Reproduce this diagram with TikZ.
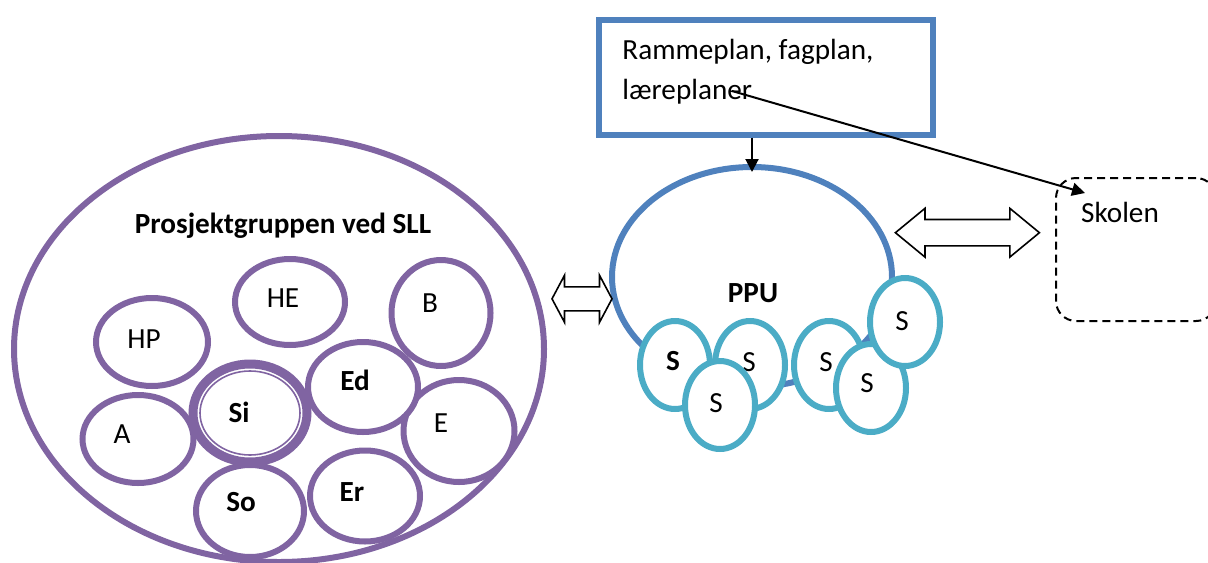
\documentclass[tikz,border=0pt]{standalone}
\usepackage{fontspec}
\setmainfont{Carlito}
\usetikzlibrary{shapes.geometric,shapes.arrows,arrows.meta}
\definecolor{sllpurple}{HTML}{8064A2}
\definecolor{ppublue}{HTML}{4F81BD}
\definecolor{steal}{HTML}{4BACC6}
\tikzset{oval/.style 2 args={minimum width=#1*0.5pt, minimum height=#2*0.5pt}}
\tikzstyle{member}=[ellipse, draw=sllpurple, line width=3pt, fill=white, inner sep=0pt]
\tikzstyle{student}=[ellipse, draw=steal, line width=3pt, fill=white, inner sep=0pt, oval={70}{88}]
\tikzstyle{word}=[inner sep=0pt, anchor=base, font=\fontsize{14.6}{20}\selectfont]
\tikzstyle{bold word}=[word, font=\fontsize{14.6}{20}\selectfont\bfseries]
\tikzstyle{bothways}=[double arrow, draw, line width=0.8pt, inner xsep=0pt]

\begin{document}
\begin{tikzpicture}[x=0.5pt, y=-0.5pt, >={Triangle[length=6.5pt,width=6.5pt]}]
      \useasboundingbox (0,0) rectangle (1208,562);
      % project group
      \node[member, oval={530}{426}] (sll) at (279,349) {};
      \node[bold word] (sll-title) at (283,233) {Prosjektgruppen ved SLL};
      \node[member, oval={112}{88}] (hp) at (152,342) {};
      \node[member, oval={110}{86}] (he) at (290,302) {};
      \node[member, oval={99}{106}] (b) at (441,313) {};
      \node[member, oval={111}{88}] (a) at (138,439) {};
      \node[member, oval={111}{102}] (e) at (459,431) {};
      \node[member, oval={110}{90}] (ed) at (363,387) {};
      \node[member, oval={110}{91}] (er) at (365,496) {};
      \node[member, oval={108}{92}] (so) at (250,511) {};
      \node[member, line width=4.5pt, oval={114}{98}] (si) at (250,413) {};
      \node[ellipse, draw=sllpurple, line width=0.8pt, oval={100}{84}] (si-ring) at (si) {};
      \node[word] (hp-t) at (144,348) {HP};
      \node[word] (he-t) at (283,307) {HE};
      \node[word] (b-t) at (430,312) {B};
      \node[word] (a-t) at (122,443) {A};
      \node[word] (e-t) at (441,432) {E};
      \node[bold word] (ed-t) at (355,390) {Ed};
      \node[bold word] (er-t) at (352,501) {Er};
      \node[bold word] (so-t) at (241,511) {So};
      \node[bold word] (si-t) at (239,422) {Si};
      % PPU with students
      \node[ellipse, draw=ppublue, line width=3pt, oval={280}{220}] (ppu) at (752,277) {};
      \node[bold word] (ppu-t) at (753,302) {PPU};
      \node[student] (s1) at (675,365) {};
      \node[bold word] (s1-t) at (673,370) {S};
      \node[student] (s2) at (750,365) {};
      \node[word] (s2-t) at (749,371) {S};
      \node[student] (s3) at (720,405) {};
      \node[word] (s3-t) at (716,412) {S};
      \node[student] (s4) at (829,365) {};
      \node[word] (s4-t) at (826,371) {S};
      \node[student] (s5) at (871,388) {};
      \node[word] (s5-t) at (867,392) {S};
      \node[student] (s6) at (905,322) {};
      \node[word] (s6-t) at (902,330) {S};
      % plans
      \node[draw=ppublue, line width=3pt, oval={334}{115}] (plan) at (765.5,77) {};
      \node[word, anchor=north west, align=left] (plan-t) at (622,39) {Rammeplan, fagplan,\\læreplaner};
      % school
      \node[draw, line width=1pt, dash pattern=on 4pt off 2.5pt, rounded corners=10pt, oval={160}{143}, anchor=north west] (skolen) at (1055,177) {};
      \node[word] (skolen-t) at (1120,222) {Skolen};
      \coordinate (plan-end) at (732,91);
      \coordinate (skolen-in) at (1085,193);
      \begin{scope}[every path/.style={->, line width=1pt}]
        \draw[shorten >=-4pt] (plan.south -| ppu.north) -- (ppu.north);
        \draw (plan-end) -- (skolen-in);
      \end{scope}
      \node[bothways, inner ysep=5.6pt, minimum height=30pt, double arrow head extend=5.75pt, double arrow tip angle=124] (sll-ppu) at (582,298.8) {};
      \node[bothways, inner ysep=6.2pt, minimum height=72pt, double arrow head extend=5.6pt, double arrow tip angle=79] (ppu-skolen) at (967.4,232.7) {};
    \end{tikzpicture}
\end{document}
